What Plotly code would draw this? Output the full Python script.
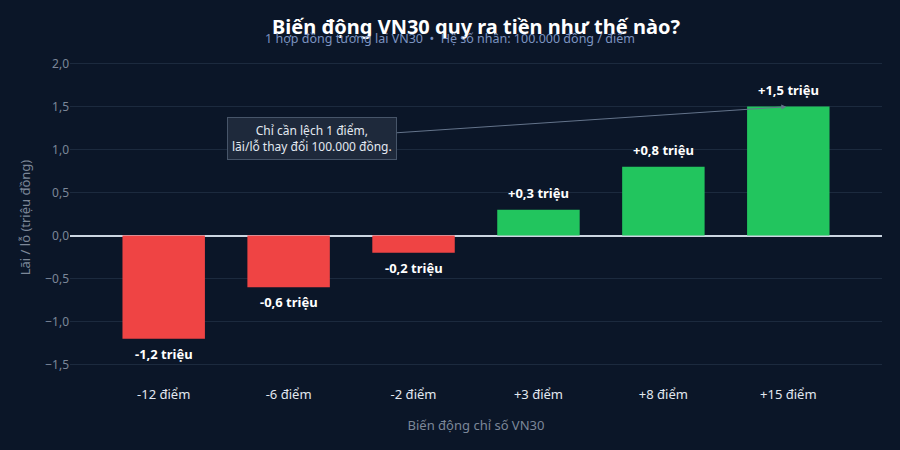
import plotly.graph_objects as go

categories = ["-12 điểm", "-6 điểm", "-2 điểm", "+3 điểm", "+8 điểm", "+15 điểm"]
values = [-1.2, -0.6, -0.2, 0.3, 0.8, 1.5]
labels = ["-1,2 triệu", "-0,6 triệu", "-0,2 triệu", "+0,3 triệu", "+0,8 triệu", "+1,5 triệu"]
colors = ["#ef4444" if v < 0 else "#22c55e" for v in values]

BG = "#0b1628"
FONT = "Noto Sans"

fig = go.Figure()
fig.add_trace(go.Bar(
    x=categories, y=values, marker=dict(color=colors, line=dict(width=0)),
    hoverinfo="skip",
))

for cat, v, lab in zip(categories, values, labels):
    fig.add_annotation(
        x=cat, y=v, xref="x", yref="y", text=f"<b>{lab}</b>", showarrow=False,
        yanchor="bottom" if v >= 0 else "top",
        yshift=6 if v >= 0 else -4,
        font=dict(family=FONT, size=13, color="#ffffff"),
    )

fig.add_annotation(
    x=5, y=1.5, xref="x", yref="y",
    ax=1.19, ay=1.13, axref="x", ayref="y",
    text="Chỉ cần lệch 1 điểm,<br>lãi/lỗ thay đổi 100.000 đồng.",
    showarrow=True, arrowhead=2, arrowsize=1, arrowwidth=1, arrowcolor="#64748b",
    standoff=2,
    font=dict(family=FONT, size=12, color="#e2e8f0"),
    bgcolor="#1e293b", bordercolor="#475569", borderwidth=1, borderpad=4,
    align="center",
)

fig.add_annotation(
    x=0.5, y=1, xref="paper", yref="paper", yanchor="bottom", yshift=13,
    text="<b>Biến động VN30 quy ra tiền như thế nào?</b>", showarrow=False,
    font=dict(family=FONT, size=20, color="#ffffff"),
)
fig.add_annotation(
    x=0.468, y=1, xref="paper", yref="paper", yanchor="bottom", yshift=6,
    text="1 hợp đồng tương lai VN30  •  Hệ số nhân: 100.000 đồng / điểm", showarrow=False,
    font=dict(family=FONT, size=12.5, color="#7b93c0"),
)

fig.update_layout(
    width=900, height=450,
    paper_bgcolor=BG, plot_bgcolor=BG,
    margin=dict(l=70, r=18, t=55, b=70),
    separators=",.",
    showlegend=False,
    bargap=0.34,
    font=dict(family=FONT, color="#94a3b8"),
    xaxis=dict(
        range=[-0.75, 5.75], showgrid=False, zeroline=False, showline=False,
        tickfont=dict(family=FONT, size=13, color="#e2e8f0"), ticks="", ticklen=0,
        ticklabelstandoff=5,
        title=dict(text="Biến động chỉ số VN30", font=dict(family=FONT, size=13, color="#7c8798"), standoff=18),
    ),
    yaxis=dict(
        range=[-1.68, 2.1], dtick=0.5, tickformat=".1f",
        gridcolor="#1c2a3e", gridwidth=1,
        zeroline=True, zerolinecolor="#cbd5e1", zerolinewidth=1.5,
        showline=False,
        tickfont=dict(family=FONT, size=12, color="#7c8798"),
        title=dict(text="Lãi / lỗ (triệu đồng)", font=dict(family=FONT, size=13, color="#7c8798"), standoff=11),
    ),
)

fig.write_html("out.html")
